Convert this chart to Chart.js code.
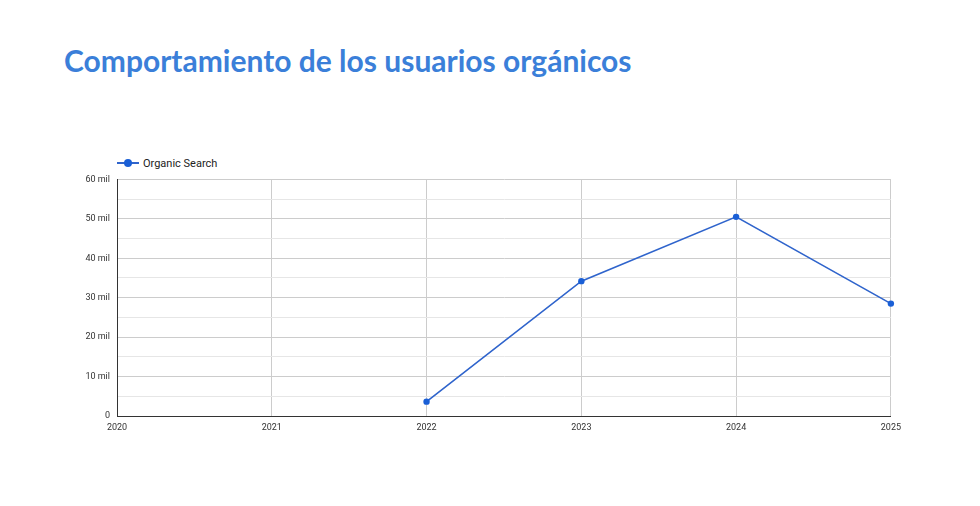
<!DOCTYPE html>
<html>
<head>
<meta charset="utf-8">
<script src="https://cdn.jsdelivr.net/npm/chart.js@4"></script>
<style>
  html, body { margin: 0; padding: 0; background: #fff; }
  body { width: 980px; height: 506px; position: relative; overflow: hidden; }
  .title {
    position: absolute; left: 64px; top: 40px; margin: 0;
    font-family: Lato, sans-serif; font-weight: 700; font-size: 30px;
    line-height: 40px; color: #3b7fd9; white-space: nowrap;
  }
  .legend {
    position: absolute; left: 117px; top: 155px; height: 16px;
    font-family: Roboto, sans-serif; font-size: 11px; color: #222;
    display: flex; align-items: center;
  }
  .legend .swatch { position: relative; width: 22px; height: 16px; margin-right: 4px; }
  .legend .swatch .ln { position: absolute; left: 0; right: 0; top: 7px; height: 2px; background: #2f64cc; }
  .legend .swatch .dot { position: absolute; left: 7px; top: 4px; width: 8px; height: 8px; border-radius: 50%; background: #1a5fd6; }
  .chart-box { position: absolute; left: 60px; top: 167px; width: 847px; height: 274px; }
</style>
</head>
<body>
<h1 class="title">Comportamiento de los usuarios orgánicos</h1>
<div class="legend"><span class="swatch"><span class="ln"></span><span class="dot"></span></span><span id="legendText"></span></div>
<div class="chart-box"><canvas id="organicChart"></canvas></div>
<script>
const years = ["2020", "2021", "2022", "2023", "2024", "2025"];
const organicUsers = [null, null, 3640, 34200, 50500, 28500];
const seriesName = "Organic Search";
const yTicks = [0, 10000, 20000, 30000, 40000, 50000, 60000];

document.getElementById("legendText").textContent = seriesName;

function formatTick(value) {
  if (!yTicks.includes(value)) return "";
  if (value === 0) return "0";
  return value / 1000 + " mil";
}

const ctx = document.getElementById("organicChart").getContext("2d");
const chart = new Chart(ctx, {
  type: "line",
  data: {
    labels: years,
    datasets: [
      {
        label: seriesName,
        data: organicUsers,
        borderColor: "#2f64cc",
        borderWidth: 1.6,
        backgroundColor: "#1a5fd6",
        pointBackgroundColor: "#1a5fd6",
        pointBorderColor: "#1a5fd6",
        pointRadius: 3.2,
        pointBorderWidth: 0,
        tension: 0,
        fill: false,
        clip: false,
      },
    ],
  },
  options: {
    responsive: true,
    maintainAspectRatio: false,
    animation: false,
    layout: { padding: { top: 6, right: 10, bottom: 0, left: 0 } },
    plugins: {
      legend: { display: false },
      tooltip: { enabled: false },
    },
    scales: {
      x: {
        offset: false,
        grid: { color: "#cccccc", lineWidth: 1, drawTicks: false },
        border: { color: "#333333", width: 1 },
        ticks: {
          font: { family: "Roboto", size: 9 },
          color: "#333333",
          padding: 6,
          maxRotation: 0,
          autoSkip: false,
        },
        afterFit: (scale) => { scale.height = 25; },
      },
      y: {
        min: 0,
        max: 60000,
        grid: {
          drawTicks: false,
          color: (c) => (c.tick && yTicks.includes(c.tick.value) ? "#cccccc" : "#e6e6e6"),
        },
        border: { color: "#333333", width: 1 },
        ticks: {
          stepSize: 5000,
          autoSkip: false,
          font: { family: "Roboto", size: 9 },
          color: "#333333",
          padding: 7,
          callback: formatTick,
        },
        afterFit: (scale) => { scale.width = 57; },
      },
    },
  },
});
</script>
</body>
</html>
